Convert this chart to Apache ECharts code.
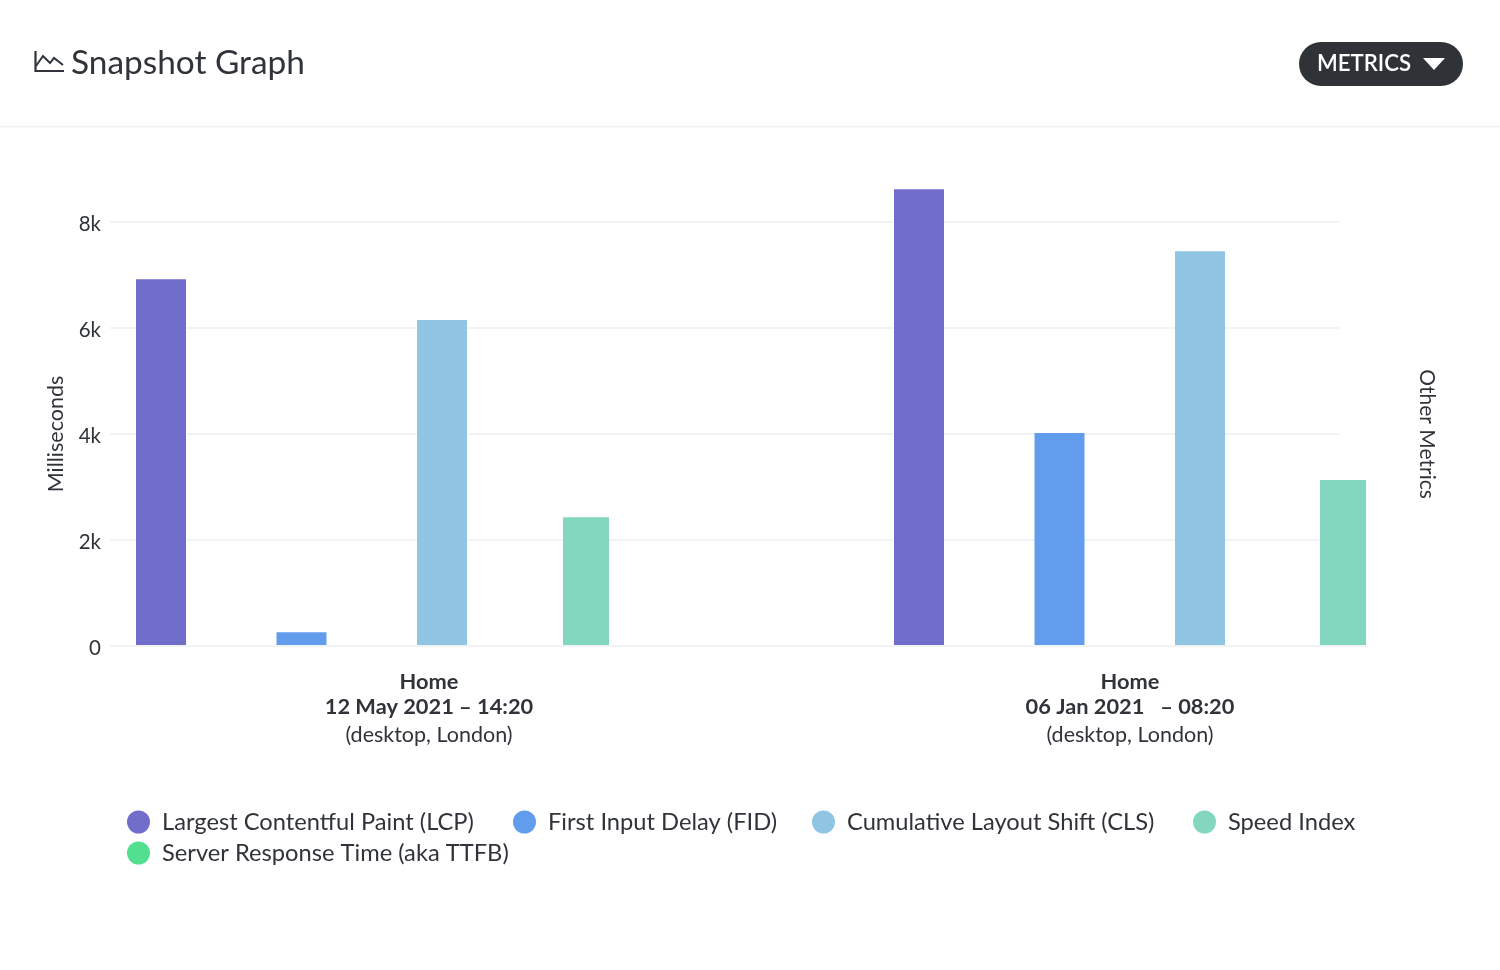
<!DOCTYPE html>
<html><head><meta charset="utf-8">
<style>html,body{margin:0;padding:0;background:#fff}#c{width:1500px;height:970px}</style>
<script src="https://cdn.jsdelivr.net/npm/echarts@6/dist/echarts.min.js"></script></head>
<body><div id="c"></div>
<script>
const pages = ['Home', 'Home'];
const dates = ['12 May 2021 – 14:20', '06 Jan 2021   – 08:20'];
const devices = ['(desktop, London)', '(desktop, London)'];
const lcp = [6920, 8620];
const fid = [260, 4020];
const cls = [6150, 7450];
const speedIndex = [2430, 3130];
const ttfb = [null, null];
const names = ['Largest Contentful Paint (LCP)', 'First Input Delay (FID)', 'Cumulative Layout Shift (CLS)', 'Speed Index', 'Server Response Time (aka TTFB)'];
const colors = ['#716ecb', '#629ded', '#90c5e4', '#84d7bf', '#52e090'];
const legendLefts = [127, 513, 812, 1193, 127];
const legendTops = [810, 810, 810, 810, 841];
const FONT = 'Lato';
const INK = '#30343a';
const LINE = '#f2f3f4';
const cats = pages.map((p, i) => p + '|' + i);
const hiddenX = g => ({type:'category', gridIndex:g, data:cats, show:false});
const hiddenY = g => ({type:'value', gridIndex:g, min:0, max:9000, show:false});
const chart = echarts.init(document.getElementById('c'), null, {renderer:'canvas'});
chart.setOption({
  animation:false,
  backgroundColor:'#fff',
  textStyle:{fontFamily:FONT, color:INK},
  grid:[
    {left:110, top:222, width:1230, height:424, outerBoundsMode:'none'},
    {left:78.5, top:222, width:1402, height:424, outerBoundsMode:'none'},
    {left:-77.5, top:169, width:1516, height:477, outerBoundsMode:'none'},
    {left:207.5, top:169, width:1514, height:477, outerBoundsMode:'none'},
    {left:110, top:224.5, width:1230, height:424, outerBoundsMode:'none'}
  ],
  xAxis:[
    {type:'category', gridIndex:0, data:cats, show:false},
    {type:'category', gridIndex:1, data:cats, axisLine:{show:false}, axisTick:{show:false},
     axisLabel:{margin:23, interval:0, formatter:(v) => {const i = +v.split('|')[1];
       return '{b|' + pages[i] + '}\n{b|' + dates[i] + '}\n{n|' + devices[i] + '}';},
       rich:{b:{fontFamily:FONT, fontWeight:700, fontSize:21.8, lineHeight:25, color:INK},
             n:{fontFamily:FONT, fontSize:21.5, lineHeight:32, color:INK}}}},
    hiddenX(2), hiddenX(3), hiddenX(4)
  ],
  yAxis:[
    {type:'value', gridIndex:0, min:0, max:8000, interval:2000, name:'Milliseconds', nameLocation:'middle', nameGap:43,
     nameTextStyle:{fontFamily:FONT, fontSize:21.5, color:INK},
     axisLine:{show:false}, axisTick:{show:false}, axisLabel:{show:false},
     splitLine:{lineStyle:{color:LINE, width:2}}},
    {type:'value', gridIndex:0, position:'right', min:0, max:8000, interval:2000, name:'Other Metrics', nameLocation:'middle', nameGap:76, nameRotate:-90,
     nameTextStyle:{fontFamily:FONT, fontSize:21, color:INK},
     axisLine:{show:false}, axisTick:{show:false}, axisLabel:{show:false}, splitLine:{show:false}},
    {type:'value', gridIndex:1, min:0, max:8000, show:false},
    hiddenY(2), hiddenY(3),
    {type:'value', gridIndex:4, min:0, max:8000, interval:2000, axisLine:{show:false}, axisTick:{show:false}, splitLine:{show:false},
     axisLabel:{margin:9, fontFamily:FONT, fontSize:20.5, color:INK, formatter:v => v === 0 ? '0' : (v/1000)+'k'}}
  ],
  legend:names.map((n, i) => ({data:[n], left:legendLefts[i], top:legendTops[i], padding:0, icon:'circle', itemWidth:23, itemHeight:23,
     textStyle:{fontFamily:FONT, fontSize:23.7, color:INK, padding:[0,0,0,7]}, selectedMode:false})),
  series:[
    {name:names[0], type:'bar', xAxisIndex:2, yAxisIndex:3, data:lcp, barWidth:50, barGap:'181%', itemStyle:{color:colors[0]}, z:3},
    {name:names[1], type:'bar', xAxisIndex:2, yAxisIndex:3, data:fid, barWidth:50, barGap:'181%', itemStyle:{color:colors[1]}, z:3},
    {name:names[2], type:'bar', xAxisIndex:2, yAxisIndex:3, data:cls, barWidth:50, barGap:'181%', itemStyle:{color:colors[2]}, z:3},
    {name:names[3], type:'bar', xAxisIndex:3, yAxisIndex:4, data:speedIndex, barWidth:46, itemStyle:{color:colors[3]}, z:3},
    {name:names[4], type:'bar', xAxisIndex:1, yAxisIndex:2, data:ttfb, itemStyle:{color:colors[4]}, z:3}
  ],
  graphic:[
    {type:'line', z:0, shape:{x1:0,y1:126.5,x2:1500,y2:126.5}, style:{stroke:'#f2f3f4', lineWidth:2}},
    {type:'line', z:5, shape:{x1:110,y1:646,x2:1366,y2:646}, style:{stroke:LINE, lineWidth:2}},
    {type:'polyline', shape:{points:[[35.5,51],[35.5,71],[64,71]]}, style:{stroke:INK, lineWidth:2.2, fill:null}},
    {type:'polyline', shape:{points:[[36,66],[43,56],[50,63],[54,58],[63,65]]}, style:{stroke:INK, lineWidth:2, fill:null}},
    {type:'text', left:71, top:47, style:{text:'Snapshot Graph', fontFamily:FONT, fontSize:33.4, fill:INK}},
    {type:'rect', shape:{x:1299,y:42,width:164,height:44,r:22}, style:{fill:'#2f3338'}},
    {type:'text', left:1317, top:53, style:{text:'METRICS', fontFamily:FONT, fontSize:22.2, fontWeight:600, fill:'#fff'}},
    {type:'polygon', shape:{points:[[1423,58],[1445,58],[1434,70]]}, style:{fill:'#fff'}}
  ]
});
</script></body></html>
